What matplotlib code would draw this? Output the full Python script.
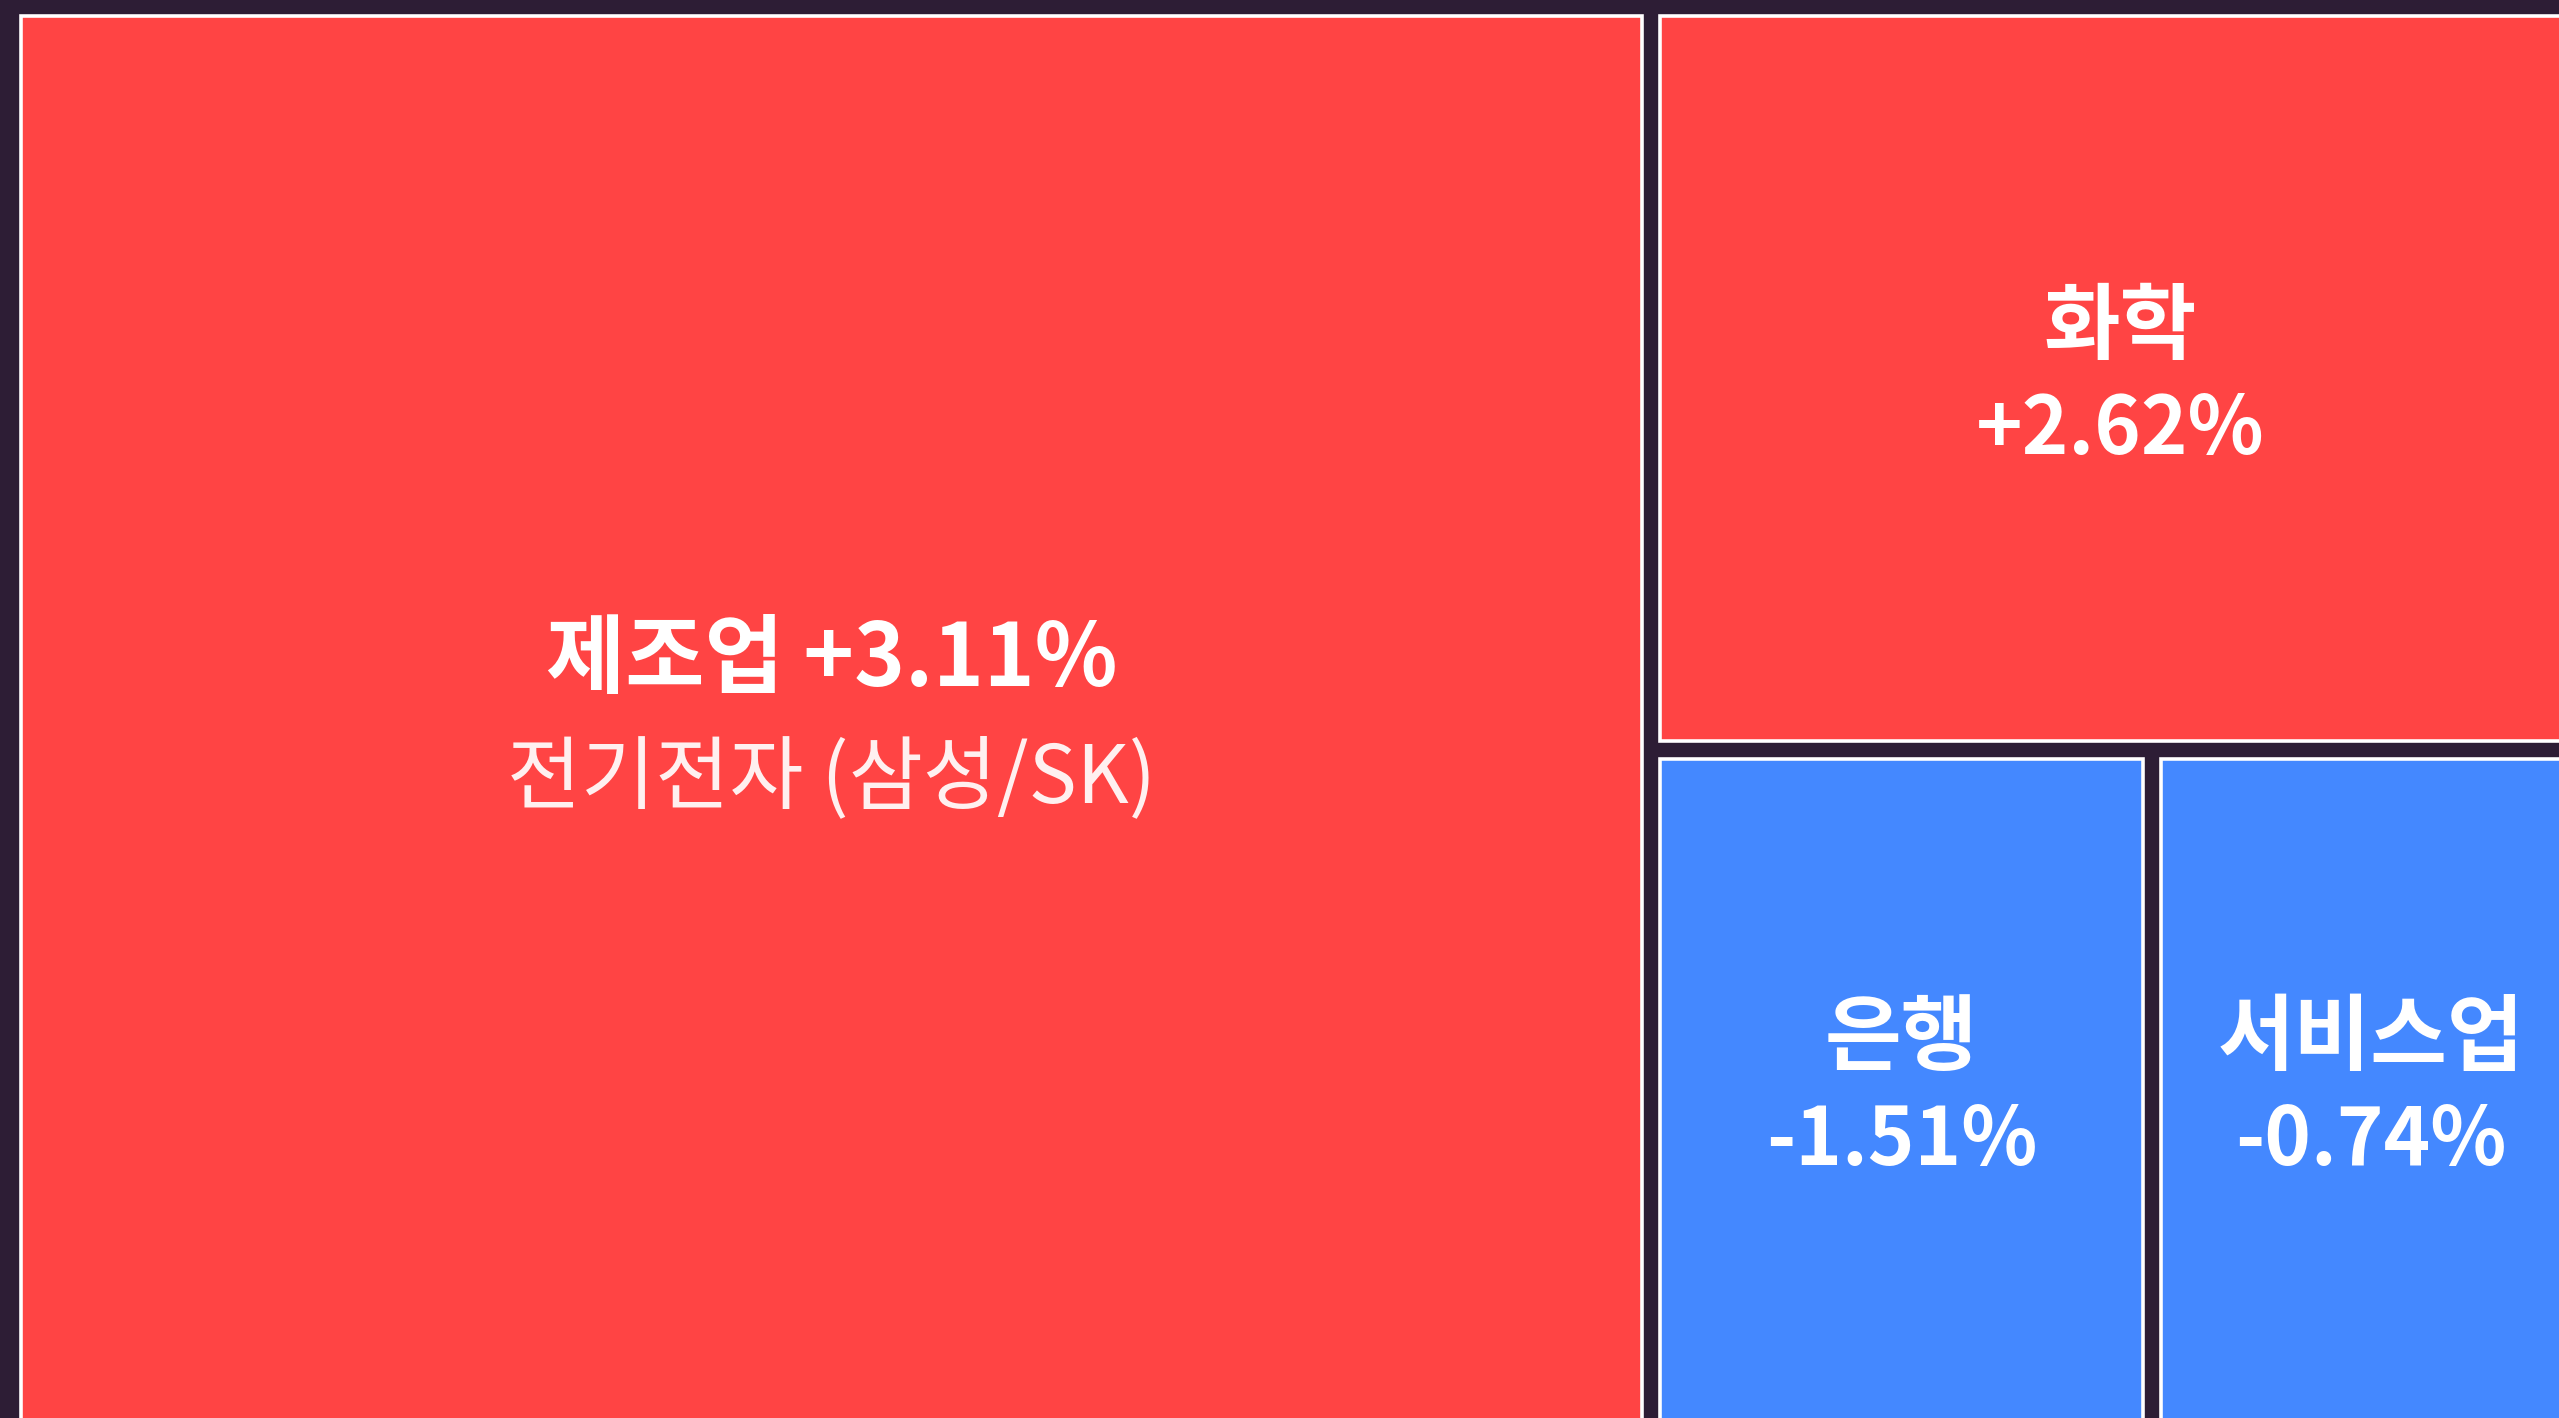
import matplotlib.pyplot as plt
from matplotlib.patches import Rectangle

plt.rcParams['font.family'] = ['Noto Sans CJK KR', 'DejaVu Sans']

# sector treemap data (weights = share of the map area)
sectors = ['제조업', '화학', '은행', '서비스업']
changes = [3.11, 2.62, -1.51, -0.74]
weights = [63.6, 19.0, 9.3, 8.1]
subtitles = ['전기전자 (삼성/SK)', '', '', '']

UP = '#ff4444'
DOWN = '#4488ff'
BG = '#2d1d35'

# treemap box, in pixel-like units
TW, TH = 2577, 1423
PAD = 9


def layout(w):
    # first item: full-height column on the left,
    # second: top of the right column, the rest share the bottom row
    tot = sum(w)
    x0 = TW * w[0] / tot
    rects = [(0, 0, x0, TH)]
    rest = sum(w[1:])
    y1 = TH * w[1] / rest
    rects.append((x0, 0, TW - x0, y1))
    bottom = sum(w[2:])
    x = x0
    for v in w[2:]:
        ww = (TW - x0) * v / bottom
        rects.append((x, y1, ww, TH - y1))
        x += ww
    return rects


fig = plt.figure(figsize=(25.59, 14.18), dpi=100, facecolor=BG)
ax = fig.add_axes([0, 0, 1, 1])
ax.set_facecolor(BG)

for (x, y, w, h), name, chg, sub in zip(layout(weights), sectors, changes, subtitles):
    col = UP if chg >= 0 else DOWN
    ax.add_patch(Rectangle((x + PAD, y + PAD), w - 2 * PAD, h - 2 * PAD,
                           facecolor=col, edgecolor='white', lw=2.6))
    cx, cy = x + w / 2, y + h / 2
    pct = '{:+.2f}%'.format(chg)
    if sub:
        ax.text(cx, cy - 58, name + ' ' + pct, ha='center', va='center',
                color='white', fontsize=62, fontweight='bold')
        ax.text(cx, cy + 60, sub, ha='center', va='center',
                color='#fff0f0', fontsize=58)
    else:
        ax.text(cx, cy - 50, name, ha='center', va='center',
                color='white', fontsize=60, fontweight='bold')
        ax.text(cx, cy + 52, pct, ha='center', va='center',
                color='white', fontsize=57, fontweight='bold')

# the view is cropped: right and bottom edge of the map run off the frame
ax.set_xlim(-12, 2547)
ax.set_ylim(1411, -7)
ax.axis('off')

fig.savefig('out.png', dpi=100, facecolor=BG)
